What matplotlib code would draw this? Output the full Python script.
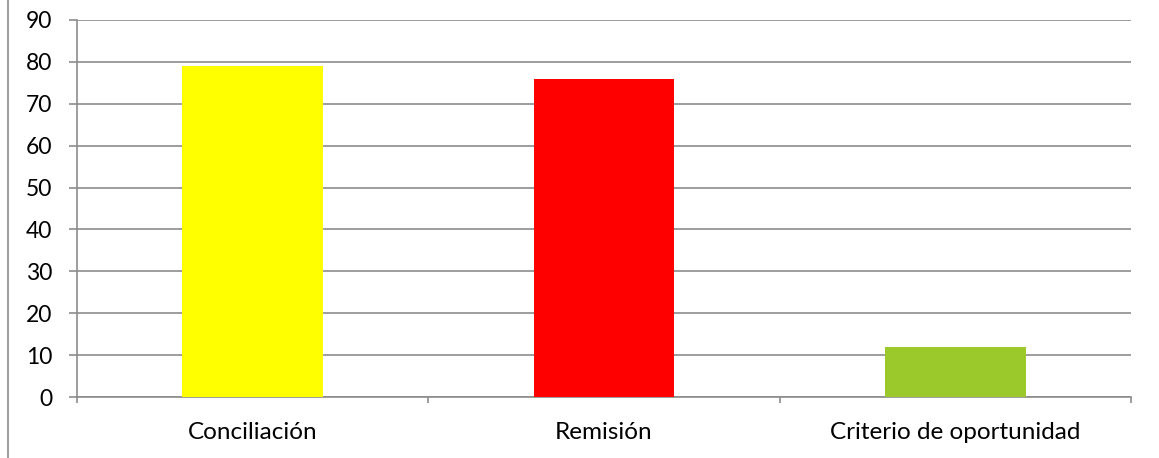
import matplotlib.pyplot as plt
from matplotlib.lines import Line2D

categories = ["Conciliación", "Remisión", "Criterio de oportunidad"]
values = [79, 76, 12]
colors = ["#FFFF00", "#FF0000", "#9BC82B"]
yticks = [0, 10, 20, 30, 40, 50, 60, 70, 80, 90]

if __name__ == '__main__':
    plt.rcParams['font.family'] = ['Lato', 'DejaVu Sans']
    fig = plt.figure(figsize=(11.59, 4.58), dpi=100)
    ax = fig.add_axes([77 / 1159, 1 - 397 / 458, (1131 - 77) / 1159, (397 - 20) / 458])

    x = range(len(categories))
    ax.bar(x, values, width=0.4, color=colors, zorder=3)

    ax.set_xlim(-0.5, len(categories) - 0.5)
    ax.set_ylim(0, 90)
    ax.set_yticks(yticks)
    ax.set_xticks(list(x))
    ax.set_xticklabels(categories, fontsize=17.5, color='black')
    ax.set_xticks([i - 0.5 for i in range(len(categories) + 1)], minor=True)
    ax.tick_params(axis='x', which='major', length=0, pad=18)
    ax.tick_params(axis='x', which='minor', length=4.5, color='#8c8c8c', width=1.2)
    ax.tick_params(axis='y', length=5.8, color='#8c8c8c', width=1.2, labelsize=16.5,
                   labelcolor='black', pad=12)

    ax.grid(axis='y', color='#8c8c8c', linewidth=1.2, zorder=0)
    for s in ['top', 'right']:
        ax.spines[s].set_visible(False)
    for s in ['left', 'bottom']:
        ax.spines[s].set_color('#8c8c8c')
        ax.spines[s].set_linewidth(1.2)

    # left border of the chart area
    fig.add_artist(Line2D([8 / 1159, 8 / 1159], [0, 1], color='#a0a0a0', linewidth=1.5,
                          transform=fig.transFigure))

    fig.savefig("out.png", dpi=100)
